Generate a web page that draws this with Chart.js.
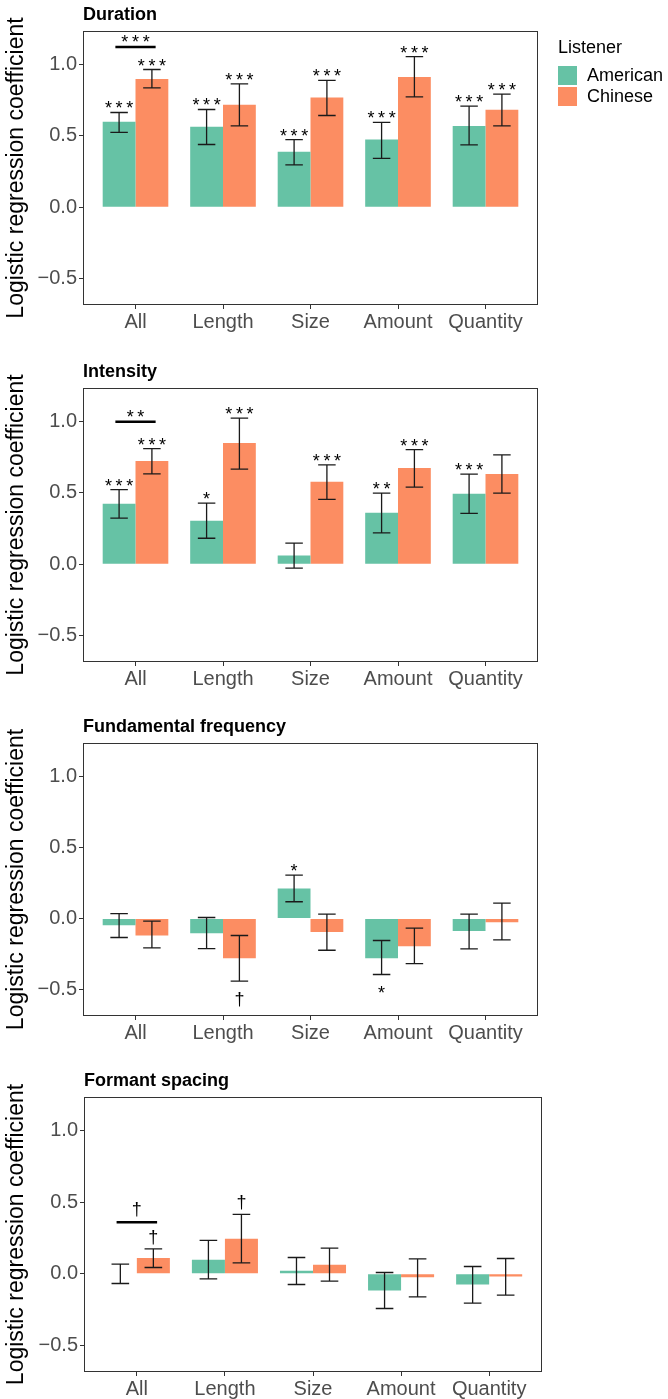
<!DOCTYPE html>
<html>
<head>
<meta charset="utf-8">
<script src="https://cdn.jsdelivr.net/npm/chart.js@4.4.1/dist/chart.umd.min.js"></script>
<style>
  body { margin: 0; background: #fff; font-family: "Liberation Sans", Arial, sans-serif; }
  #wrap { position: relative; width: 668px; height: 1399px; }
  canvas { position: absolute; left: 0; }
  #legend { position: absolute; left: 558px; top: 36px; color: #000; font-size: 18px; }
  #legend .title { line-height: 22px; height: 29px; }
  #legend .row { display: flex; align-items: center; height: 21px; }
  #legend .key { width: 19px; height: 19px; margin-right: 10px; }
</style>
</head>
<body>
<div id="wrap">
  <canvas id="p-duration" width="668" height="340" style="top:0px"></canvas>
  <canvas id="p-intensity" width="668" height="340" style="top:357px"></canvas>
  <canvas id="p-f0" width="668" height="340" style="top:712px"></canvas>
  <canvas id="p-formant" width="668" height="333" style="top:1066px"></canvas>
  <div id="legend"></div>
</div>
<script>
"use strict";

// categories and axis ticks
const categories = ["All", "Length", "Size", "Amount", "Quantity"];
const yTicks = [-0.5, 0, 0.5, 1.0];
const listeners = ["American", "Chinese"];

// Duration
const durAm = [0.60, 0.565, 0.39, 0.475, 0.57];
const durAmLo = [0.525, 0.44, 0.297, 0.342, 0.438];
const durAmHi = [0.665, 0.686, 0.475, 0.595, 0.71];
const durCh = [0.90, 0.72, 0.77, 0.915, 0.685];
const durChLo = [0.838, 0.571, 0.644, 0.775, 0.571];
const durChHi = [0.967, 0.866, 0.89, 1.058, 0.794];
const durSigAm = ["***", "***", "***", "***", "***"];
const durSigCh = ["***", "***", "***", "***", "***"];
const durBracket = [1.125, "***"];

// Intensity
const intAm = [0.424, 0.305, 0.061, 0.361, 0.494];
const intAmLo = [0.324, 0.182, -0.028, 0.219, 0.357];
const intAmHi = [0.524, 0.429, 0.147, 0.499, 0.632];
const intCh = [0.725, 0.851, 0.578, 0.676, 0.634];
const intChLo = [0.634, 0.667, 0.455, 0.541, 0.499];
const intChHi = [0.811, 1.026, 0.697, 0.804, 0.767];
const intSigAm = ["***", "*", "", "**", "***"];
const intSigCh = ["***", "***", "***", "***", ""];
const intBracket = [1.0, "**"];

// Fundamental frequency
const f0Am = [-0.047, -0.104, 0.212, -0.28, -0.089];
const f0AmLo = [-0.134, -0.212, 0.118, -0.395, -0.214];
const f0AmHi = [0.035, 0.007, 0.306, -0.155, 0.031];
const f0Ch = [-0.12, -0.28, -0.096, -0.195, -0.026];
const f0ChLo = [-0.207, -0.442, -0.224, -0.318, -0.151];
const f0ChHi = [-0.019, -0.12, 0.031, -0.068, 0.108];
const f0SigAm = ["", "", "*", "*", ""];
const f0SigCh = ["", "\u2020", "", "", ""];

// Formant spacing
const fsAm = [0.0, 0.098, 0.021, -0.117, -0.075];
const fsAmLo = [-0.068, -0.035, -0.075, -0.243, -0.206];
const fsAmHi = [0.068, 0.234, 0.114, 0.009, 0.051];
const fsCh = [0.11, 0.245, 0.063, -0.025, -0.019];
const fsChLo = [0.044, 0.077, -0.051, -0.161, -0.15];
const fsChHi = [0.175, 0.416, 0.18, 0.105, 0.107];
const fsSigAm = ["", "", "", "", ""];
const fsSigCh = ["\u2020", "\u2020", "", "", ""];
const fsBracket = [0.36, "\u2020"];

const COLORS = ["#66C2A5", "#FC8D62"];
const FONT = "'Liberation Sans', Arial, sans-serif";
Chart.defaults.font.family = FONT;

// error bars, significance marks, comparison bracket and panel frame
const annotatePlugin = {
  id: "annotate",
  afterDatasetsDraw(chart) {
    const ctx = chart.ctx;
    const xs = chart.scales.x;
    const ys = chart.scales.y;
    const capHalf = xs.getPixelForValue(1.1) - xs.getPixelForValue(1);
    ctx.save();

    chart.data.datasets.forEach(function (ds, i) {
      const meta = chart.getDatasetMeta(i);
      meta.data.forEach(function (bar, j) {
        const yLo = ys.getPixelForValue(ds.lo[j]);
        const yHi = ys.getPixelForValue(ds.hi[j]);
        ctx.strokeStyle = "#1a1a1a";
        ctx.lineWidth = 1.3;
        ctx.beginPath();
        ctx.moveTo(bar.x, yLo);
        ctx.lineTo(bar.x, yHi);
        ctx.moveTo(bar.x - capHalf, yLo);
        ctx.lineTo(bar.x + capHalf, yLo);
        ctx.moveTo(bar.x - capHalf, yHi);
        ctx.lineTo(bar.x + capHalf, yHi);
        ctx.stroke();

        const sig = ds.sig[j];
        if (sig) {
          const above = ds.data[j].y >= 0;
          drawMark(ctx, sig, bar.x, above ? yHi : yLo, above, above ? 4 : 11);
        }
      });
    });

    const br = chart.options.plugins.annotate.bracket;
    if (br) {
      const y = ys.getPixelForValue(br[0]);
      const x0 = xs.getPixelForValue(0.77);
      const x1 = xs.getPixelForValue(1.23);
      ctx.strokeStyle = "#000";
      ctx.lineWidth = 2.5;
      ctx.beginPath();
      ctx.moveTo(x0, y);
      ctx.lineTo(x1, y);
      ctx.stroke();
      drawMark(ctx, br[1], (x0 + x1) / 2, y, true, 5);
    }

    const a = chart.chartArea;
    ctx.strokeStyle = "#333";
    ctx.lineWidth = 1;
    ctx.strokeRect(Math.round(a.left) + 0.5, Math.round(a.top) + 0.5,
      Math.round(a.right - a.left) - 1, Math.round(a.bottom - a.top) - 1);
    ctx.restore();
  }
};

function drawMark(ctx, text, cx, edgeY, above, gap) {
  ctx.font = "18px " + FONT;
  ctx.fillStyle = "#000";
  ctx.textAlign = "center";
  ctx.textBaseline = "alphabetic";
  const m = ctx.measureText(text);
  const base = above ? edgeY - gap - m.actualBoundingBoxDescent
                     : edgeY + gap + m.actualBoundingBoxAscent;
  const chars = text.split("");
  chars.forEach(function (c, k) {
    ctx.fillText(c, cx + (k - (chars.length - 1) / 2) * 10.7, base);
  });
}

function fmtTick(v) {
  const s = Math.abs(v).toFixed(1);
  return v < 0 ? "\u2212" + s : s;
}

function makePanel(id, title, am, amLo, amHi, ch, chLo, chHi, sigAm, sigCh, bracket, geo) {
  const canvas = document.getElementById(id);
  const series = [[am, amLo, amHi, sigAm], [ch, chLo, chHi, sigCh]];
  return new Chart(canvas, {
    type: "bar",
    data: {
      datasets: series.map(function (s, i) {
        return {
          label: listeners[i],
          data: s[0].map(function (v, j) { return { x: j + 1, y: v }; }),
          lo: s[1],
          hi: s[2],
          sig: s[3],
          backgroundColor: COLORS[i],
          borderWidth: 0,
          categoryPercentage: 0.75,
          barPercentage: 1
        };
      })
    },
    options: {
      responsive: false,
      animation: false,
      events: [],
      layout: { padding: { left: 0, right: 668 - geo.right, top: 0, bottom: 0 } },
      plugins: {
        legend: { display: false },
        tooltip: { enabled: false },
        title: {
          display: true,
          text: title,
          align: "start",
          fullSize: false,
          color: "#000",
          font: { size: 18, weight: "bold" },
          padding: { top: 4, bottom: 5.4 }
        },
        annotate: { bracket: bracket }
      },
      scales: {
        x: {
          type: "linear",
          min: 0.4,
          max: 5.6,
          offset: false,
          afterBuildTicks: function (s) {
            s.ticks = categories.map(function (c, i) { return { value: i + 1 }; });
          },
          afterFit: function (s) { s.height = geo.xh; },
          ticks: {
            autoSkip: false,
            maxRotation: 0,
            padding: 1,
            color: "#4D4D4D",
            font: { size: 20 },
            callback: function (v) { return categories[Math.round(v) - 1]; }
          },
          grid: { drawOnChartArea: false, offset: false, tickLength: 4, tickColor: "#333" },
          border: { display: false }
        },
        y: {
          min: -0.6875,
          max: 1.2375,
          afterBuildTicks: function (s) {
            s.ticks = yTicks.map(function (v) { return { value: v }; });
          },
          afterFit: function (s) { s.width = geo.left; },
          ticks: {
            padding: 2,
            color: "#4D4D4D",
            font: { size: 20 },
            callback: fmtTick
          },
          grid: { drawOnChartArea: false, tickLength: 4, tickColor: "#333" },
          border: { display: false },
          title: {
            display: true,
            text: "Logistic regression coefficient",
            color: "#000",
            font: { size: 23 },
            padding: { top: 3, bottom: 0 }
          }
        }
      }
    },
    plugins: [annotatePlugin]
  });
}

const dur = makePanel("p-duration", "Duration", durAm, durAmLo, durAmHi, durCh, durChLo, durChHi,
  durSigAm, durSigCh, durBracket, { left: 83, right: 538, xh: 35 });
makePanel("p-intensity", "Intensity", intAm, intAmLo, intAmHi, intCh, intChLo, intChHi,
  intSigAm, intSigCh, intBracket, { left: 83, right: 538, xh: 35 });
makePanel("p-f0", "Fundamental frequency", f0Am, f0AmLo, f0AmHi, f0Ch, f0ChLo, f0ChHi,
  f0SigAm, f0SigCh, null, { left: 83, right: 538, xh: 36 });
makePanel("p-formant", "Formant spacing", fsAm, fsAmLo, fsAmHi, fsCh, fsChLo, fsChHi,
  fsSigAm, fsSigCh, fsBracket, { left: 84, right: 542, xh: 27 });

// legend built from the first panel's datasets
const legend = document.getElementById("legend");
let html = '<div class="title">Listener</div>';
dur.data.datasets.forEach(function (ds) {
  html += '<div class="row"><span class="key" style="background:' + ds.backgroundColor +
    '"></span><span>' + ds.label + "</span></div>";
});
legend.innerHTML = html;
</script>
</body>
</html>
